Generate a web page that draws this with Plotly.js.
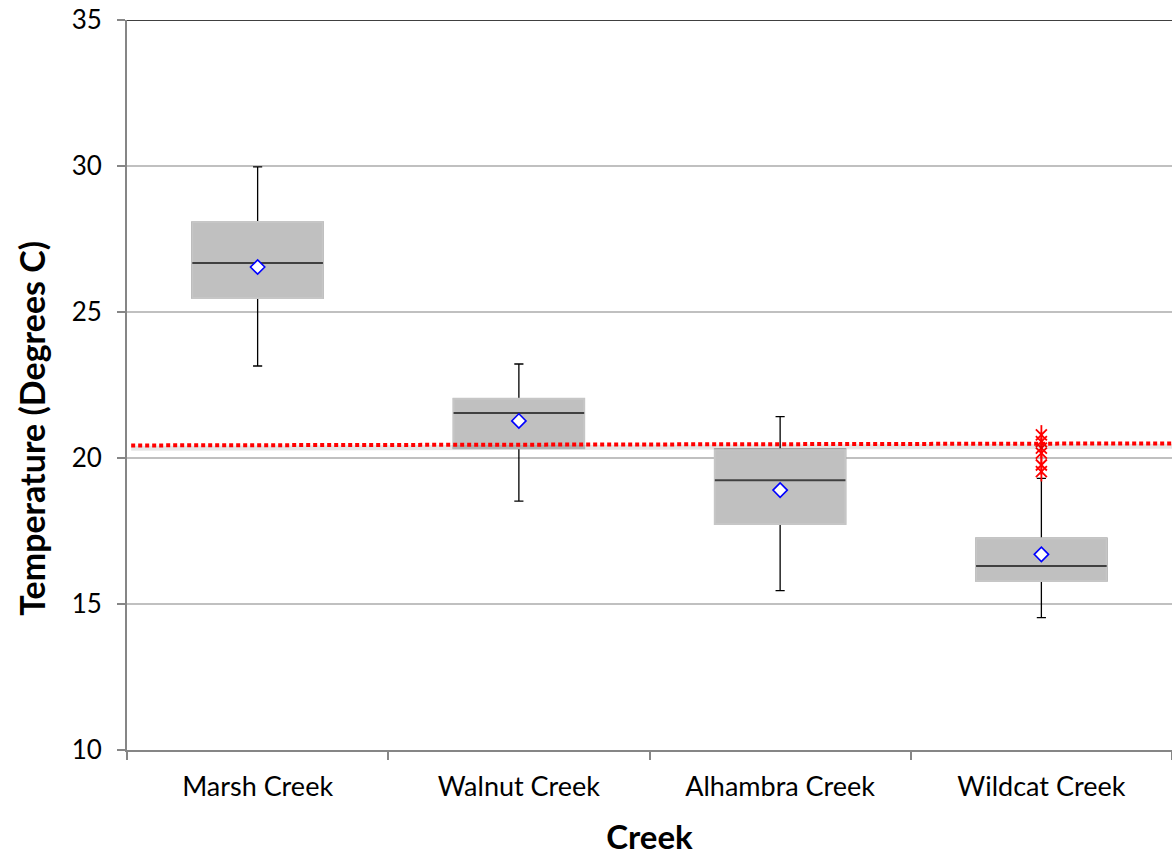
<!DOCTYPE html>
<html>
<head>
<meta charset="utf-8">
<script src="https://cdn.plot.ly/plotly-3.0.1.min.js"></script>
<style>
  html, body { margin: 0; padding: 0; background: #ffffff; }
  #chart { width: 1172px; height: 856px; }
</style>
</head>
<body>
<div id="chart"></div>
<script>
// ---- data ----
const categories = ['Marsh Creek', 'Walnut Creek', 'Alhambra Creek', 'Wildcat Creek'];
const lowerWhisker = [23.15, 18.52, 15.46, 14.53];
const q1 = [25.48, 20.33, 17.74, 15.79];
const median = [26.68, 21.54, 19.24, 16.30];
const q3 = [28.08, 22.03, 20.30, 17.25];
const upperWhisker = [29.97, 23.22, 21.42, 19.30];
const mean = [26.54, 21.27, 18.90, 16.70];
const outlierCategory = ['Wildcat Creek', 'Wildcat Creek', 'Wildcat Creek', 'Wildcat Creek', 'Wildcat Creek', 'Wildcat Creek'];
const outlierValues = [20.79, 20.56, 20.34, 20.17, 19.76, 19.53];
const thresholdValues = [20.43, 20.50];   // left end, right end
const yTickValues = [10, 15, 20, 25, 30, 35];
const xTitle = 'Creek';
const yTitle = 'Temperature (Degrees C)';

const FONT = 'Lato, Carlito, Calibri, "Open Sans", sans-serif';

// whiskers + caps (box outline later hidden)
const whiskerTrace = {
  type: 'box', x: categories,
  q1: q1, median: median, q3: q3,
  lowerfence: lowerWhisker, upperfence: upperWhisker,
  width: 0.5, whiskerwidth: 0.07, boxpoints: false,
  line: { color: '#000000', width: 1.3 }, fillcolor: '#c0c0c0',
  hoverinfo: 'skip', showlegend: false
};
// grey box body covering the outline
const bodyTrace = {
  type: 'box', x: categories,
  q1: q1, median: median, q3: q3,
  lowerfence: q1, upperfence: q3,
  width: 0.5, whiskerwidth: 0, boxpoints: false,
  line: { color: '#c6c6c6', width: 2 }, fillcolor: '#c0c0c0',
  hoverinfo: 'skip', showlegend: false
};
// median line
const medianTrace = {
  type: 'box', x: categories,
  q1: median, median: median, q3: median,
  lowerfence: median, upperfence: median,
  width: 0.5, whiskerwidth: 0, boxpoints: false,
  line: { color: '#404040', width: 2 }, fillcolor: 'rgba(0,0,0,0)',
  hoverinfo: 'skip', showlegend: false
};
const meanTrace = {
  type: 'scatter', mode: 'markers', x: categories, y: mean,
  marker: { symbol: 'diamond', size: 11, color: '#ffffff', line: { color: '#0000ff', width: 1.6 } },
  hoverinfo: 'skip', showlegend: false
};
const outlierX = {
  type: 'scatter', mode: 'markers', x: outlierCategory, y: outlierValues,
  marker: { symbol: 'x-thin-open', size: 11, color: '#ff0000', line: { color: '#ff0000', width: 1.8 } },
  hoverinfo: 'skip', showlegend: false
};
const outlierBar = {
  type: 'scatter', mode: 'markers', x: outlierCategory, y: outlierValues,
  marker: { symbol: 'line-ns-open', size: 14, color: '#ff0000', line: { color: '#ff0000', width: 1.8 } },
  hoverinfo: 'skip', showlegend: false
};

const layout = {
  width: 1172, height: 856,
  margin: { l: 127, r: 0, t: 20, b: 106, pad: 0 },
  paper_bgcolor: '#ffffff', plot_bgcolor: '#ffffff',
  showlegend: false, boxmode: 'overlay',
  font: { family: FONT, color: '#000000' },
  xaxis: {
    type: 'category', categoryorder: 'array', categoryarray: categories,
    range: [-0.5, categories.length - 0.5],
    showline: true, linecolor: '#868686', linewidth: 2,
    ticks: 'outside', tickson: 'boundaries', ticklen: 8, tickwidth: 2, tickcolor: '#868686',
    ticklabelstandoff: 12,
    tickfont: { family: FONT, size: 27, color: '#000000' },
    showgrid: false, zeroline: false, fixedrange: true,
    title: { text: xTitle, font: { family: FONT, size: 33, color: '#000000', weight: 'bold' }, standoff: 24 }
  },
  yaxis: {
    range: [10, 35], tickmode: 'array', tickvals: yTickValues,
    showline: true, linecolor: '#868686', linewidth: 2,
    ticks: 'outside', ticklen: 8, tickwidth: 2, tickcolor: '#868686',
    ticklabelstandoff: 10,
    tickfont: { family: FONT, size: 26, color: '#000000' },
    showgrid: true, gridcolor: '#c0c0c0', gridwidth: 1.5, zeroline: false, fixedrange: true
  },
  annotations: [
    { text: yTitle, xref: 'paper', yref: 'paper', x: 0, y: 0.44, xanchor: 'center', yanchor: 'middle',
      xshift: -95, textangle: -90, showarrow: false,
      font: { family: FONT, size: 34, color: '#000000', weight: 'bold' } }
  ],
  shapes: [
    // top border at the axis maximum
    { type: 'line', xref: 'paper', yref: 'y', x0: 0, x1: 1, y0: yTickValues[yTickValues.length - 1], y1: yTickValues[yTickValues.length - 1],
      line: { color: '#000000', width: 1.5 }, layer: 'above' },
    // soft shadow of the threshold line
    { type: 'line', xref: 'paper', yref: 'y', x0: 0.004, x1: 1, y0: thresholdValues[0] - 0.1, y1: thresholdValues[1] - 0.1,
      line: { color: 'rgba(0,0,0,0.10)', width: 5 }, layer: 'above' },
    // red dotted threshold line
    { type: 'line', xref: 'paper', yref: 'y', x0: 0.004, x1: 1, y0: thresholdValues[0], y1: thresholdValues[1],
      line: { color: '#ff0000', width: 4, dash: '4px,3px' }, layer: 'above' }
  ]
};

Plotly.newPlot('chart', [whiskerTrace, bodyTrace, medianTrace, meanTrace, outlierX, outlierBar], layout,
  { staticPlot: true, displayModeBar: false });
</script>
</body>
</html>
